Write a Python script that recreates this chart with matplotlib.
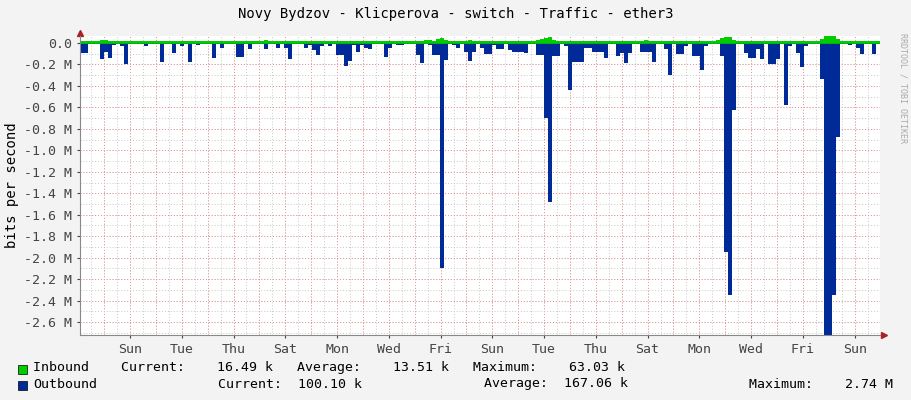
import matplotlib
matplotlib.use("Agg")
import matplotlib.pyplot as plt
import numpy as np

# outbound traffic (M bit/s), one sample per ~3.7 h, shown negative
outbound = [
    0.09, 0.09, 0.01, 0.01, 0.01, 0.15, 0.08, 0.14, 0.015, 0.01,
    0.025, 0.2, 0.01, 0.01, 0.01, 0.01, 0.03, 0.01, 0.01, 0.01,
    0.18, 0.01, 0.01, 0.09, 0.01, 0.025, 0.01, 0.18, 0.01, 0.02,
    0.01, 0.01, 0.01, 0.14, 0.01, 0.05, 0.01, 0.01, 0.01, 0.13,
    0.13, 0.01, 0.06, 0.01, 0.01, 0.01, 0.06, 0.01, 0.01, 0.05,
    0.01, 0.05, 0.15, 0.01, 0.01, 0.01, 0.05, 0.02, 0.07, 0.11,
    0.025, 0.01, 0.03, 0.01, 0.11, 0.11, 0.21, 0.17, 0.02, 0.08,
    0.02, 0.05, 0.06, 0.01, 0.01, 0.01, 0.13, 0.05, 0.01, 0.015,
    0.015, 0.01, 0.01, 0.01, 0.11, 0.19, 0.01, 0.02, 0.11, 0.11,
    2.1, 0.16, 0.01, 0.015, 0.05, 0.01, 0.08, 0.17, 0.08, 0.01,
    0.05, 0.1, 0.1, 0.015, 0.06, 0.06, 0.01, 0.07, 0.08, 0.08,
    0.08, 0.09, 0.01, 0.01, 0.11, 0.11, 0.7, 1.48, 0.12, 0.12,
    0.01, 0.025, 0.44, 0.18, 0.18, 0.18, 0.05, 0.05, 0.08, 0.08,
    0.08, 0.14, 0.01, 0.01, 0.12, 0.09, 0.19, 0.09, 0.01, 0.01,
    0.08, 0.08, 0.08, 0.18, 0.01, 0.01, 0.06, 0.3, 0.01, 0.1,
    0.1, 0.025, 0.01, 0.12, 0.12, 0.25, 0.025, 0.01, 0.01, 0.01,
    0.12, 1.95, 2.35, 0.62, 0.01, 0.01, 0.09, 0.14, 0.14, 0.06,
    0.15, 0.01, 0.2, 0.2, 0.15, 0.01, 0.58, 0.03, 0.01, 0.09,
    0.22, 0.03, 0.01, 0.01, 0.01, 0.34, 2.75, 2.75, 2.35, 0.88,
    0.01, 0.01, 0.015, 0.01, 0.05, 0.1, 0.01, 0.01, 0.1, 0.01,
]
# inbound traffic (M bit/s)
inbound = [0.015] * 200
bumps = {0: 0.02, 5: 0.025, 6: 0.025, 11: 0.02, 20: 0.02, 27: 0.02, 33: 0.02,
         39: 0.02, 46: 0.025, 51: 0.02, 64: 0.02, 65: 0.02, 66: 0.02,
         86: 0.025, 87: 0.03, 89: 0.04, 90: 0.045, 91: 0.03, 97: 0.025,
         114: 0.03, 115: 0.04, 116: 0.05, 117: 0.055, 118: 0.03, 141: 0.025,
         159: 0.03, 160: 0.05, 161: 0.06, 162: 0.06, 163: 0.03,
         185: 0.04, 186: 0.065, 187: 0.065, 188: 0.065, 189: 0.04}
for k, v in bumps.items():
    inbound[k] = v

day_labels = ["Sun", "Tue", "Thu", "Sat", "Mon", "Wed", "Fri", "Sun",
              "Tue", "Thu", "Sat", "Mon", "Wed", "Fri", "Sun"]
samples_per_day = 6.47
first_label = 12.5

x = np.arange(len(outbound) + 1)
out_neg = -np.array(outbound + [outbound[-1]])
inb = np.array(inbound + [inbound[-1]])

fig = plt.figure(figsize=(9.11, 4.0), dpi=100)
fig.patch.set_facecolor("#f3f3f3")
ax = fig.add_axes([80 / 911, 1 - 335 / 400, 800 / 911, 299 / 400])
ax.set_facecolor("white")

ax.fill_between(x, 0, out_neg, step="post", color="#002a97", lw=0)
ax.fill_between(x, 0, inb, step="post", color="#00cc00", lw=0)
ax.axhline(0, color="#00cc00", lw=1.2)

ax.set_xlim(0, 200)
ax.set_ylim(-2.72, 0.065)

# grid: grey every half day / 0.1 M, red every day / 0.2 M
for d in np.arange(first_label - 2 * samples_per_day, 200, samples_per_day / 2):
    ax.axvline(d, color="#c8c8c8", lw=0.7, ls=(0, (1, 2)), zorder=0)
for d in np.arange(first_label - samples_per_day, 200, samples_per_day):
    ax.axvline(d, color="#f09090", lw=0.7, ls=(0, (1, 2)), zorder=0)
for v in np.arange(0, -2.75, -0.1):
    ax.axhline(v, color="#c8c8c8", lw=0.7, ls=(0, (1, 2)), zorder=0)
for v in np.arange(0, -2.75, -0.2):
    ax.axhline(v, color="#f09090", lw=0.7, ls=(0, (1, 2)), zorder=0)

yt = np.arange(0, -2.65, -0.2)
ax.set_yticks(yt)
ax.set_yticklabels(["0.0" if i == 0 else "%.1f M" % v for i, v in enumerate(yt)])
ax.set_xticks([first_label + 2 * samples_per_day * i for i in range(len(day_labels))])
ax.set_xticklabels(day_labels)
ax.tick_params(labelsize=9.5, length=2, colors="#444444")
for lab in ax.get_xticklabels() + ax.get_yticklabels():
    lab.set_fontfamily("DejaVu Sans Mono")
for s in ["top", "right"]:
    ax.spines[s].set_visible(False)
ax.spines["left"].set_color("#888888")
ax.spines["bottom"].set_color("#888888")
ax.plot(1.005, 0, ">", color="#aa2222", ms=4, transform=ax.transAxes, clip_on=False)
ax.plot(0, 1.01, "^", color="#aa2222", ms=4, transform=ax.transAxes, clip_on=False)
ax.set_ylabel("bits per second", fontsize=10, family="DejaVu Sans Mono")

fig.text(0.5, 1 - 14 / 400, "Novy Bydzov - Klicperova - switch - Traffic - ether3",
         ha="center", va="center", fontsize=10, family="DejaVu Sans Mono")
fig.text(903 / 911, 0.78, "RRDTOOL / TOBI OETIKER", rotation=270, ha="center",
         va="center", fontsize=6, color="#aaaaaa", family="DejaVu Sans Mono")

fig.patches.append(plt.Rectangle((18 / 911, 1 - 374 / 400), 9 / 911, 9 / 400,
                                 transform=fig.transFigure, facecolor="#00cc00", edgecolor="black", lw=0.5))
fig.patches.append(plt.Rectangle((18 / 911, 1 - 390 / 400), 9 / 911, 9 / 400,
                                 transform=fig.transFigure, facecolor="#002a97", edgecolor="black", lw=0.5))
mono = dict(fontsize=9.5, family="DejaVu Sans Mono", va="center")
fig.text(33 / 911, 1 - 368 / 400,
         "Inbound    Current:    16.49 k   Average:    13.51 k   Maximum:    63.03 k", **mono)
fig.text(33 / 911, 1 - 384 / 400, "Outbound", **mono)
fig.text(218 / 911, 1 - 384 / 400, "Current:  100.10 k", **mono)
fig.text(484 / 911, 1 - 384 / 400, "Average:  167.06 k", **mono)
fig.text(749 / 911, 1 - 384 / 400, "Maximum:    2.74 M", **mono)

fig.savefig("out.png", dpi=100, facecolor=fig.get_facecolor())
